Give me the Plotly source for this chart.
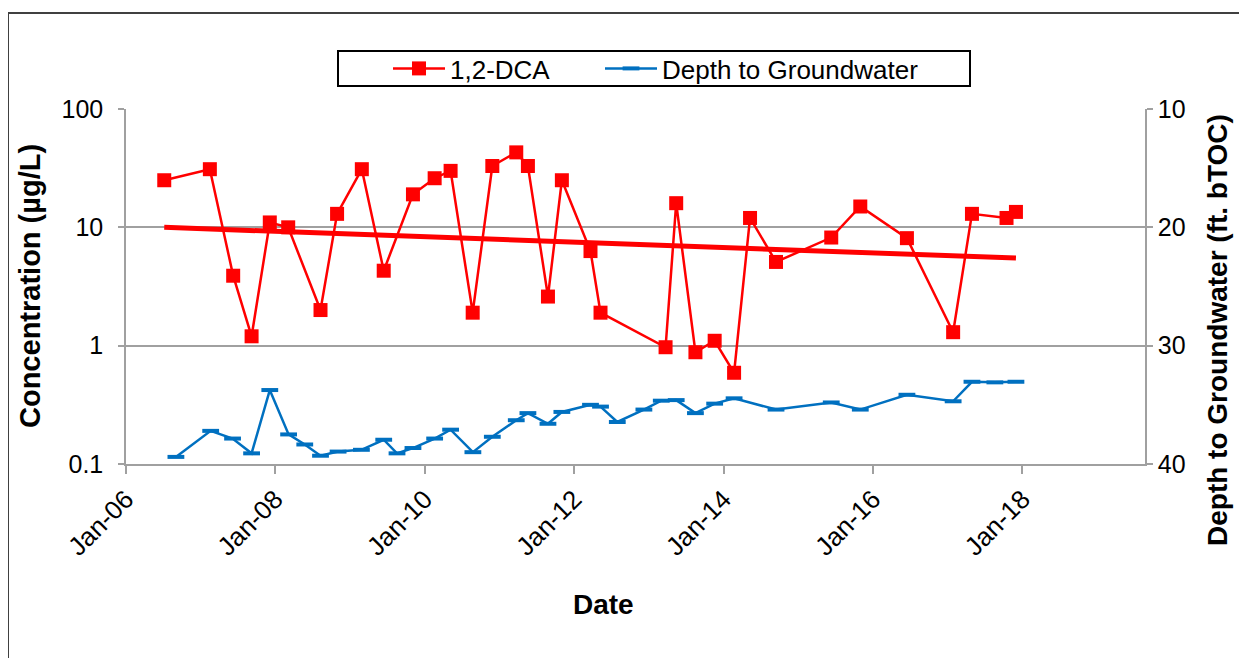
import plotly.graph_objects as go

# ---- data ----
dca_dates = ["2006-07-07", "2007-02-15", "2007-06-09", "2007-09-07", "2007-12-05", "2008-03-04",
             "2008-08-09", "2008-10-29", "2009-02-27", "2009-06-14", "2009-11-04", "2010-02-18",
             "2010-05-07", "2010-08-23", "2010-11-27", "2011-03-24", "2011-05-20", "2011-08-26",
             "2011-11-02", "2012-03-21", "2012-05-09", "2013-03-23", "2013-05-14", "2013-08-16",
             "2013-11-18", "2014-02-21", "2014-05-10", "2014-09-14", "2015-06-11", "2015-10-31",
             "2016-06-15", "2017-01-27", "2017-04-29", "2017-10-15", "2017-11-30"]
dca_values = [25, 31, 3.9, 1.2, 11, 10, 2.0, 13, 31, 4.3, 19, 26, 30, 1.9, 33, 43, 33, 2.6,
              25, 6.3, 1.9, 0.97, 16, 0.88, 1.1, 0.59, 12, 5.1, 8.2, 15, 8.1, 1.3, 13, 12, 13.5]

gw_dates = ["2006-09-02", "2007-02-19", "2007-06-06", "2007-09-07", "2007-12-05", "2008-03-06",
            "2008-05-24", "2008-08-09", "2008-11-03", "2009-02-25", "2009-06-14", "2009-08-18",
            "2009-11-04", "2010-02-18", "2010-05-07", "2010-08-24", "2010-11-27", "2011-03-24",
            "2011-05-20", "2011-08-26", "2011-11-02", "2012-03-21", "2012-05-09", "2012-07-30",
            "2012-12-07", "2013-03-02", "2013-05-14", "2013-08-16", "2013-11-18", "2014-02-21",
            "2014-09-14", "2015-06-11", "2015-10-31", "2016-06-15", "2017-01-27", "2017-04-29",
            "2017-08-19", "2017-11-30"]
gw_depths = [39.4, 37.2, 37.85, 39.1, 33.75, 37.5, 38.35, 39.3, 38.95, 38.8, 37.95, 39.1,
             38.65, 37.85, 37.1, 39.0, 37.7, 36.3, 35.7, 36.6, 35.6, 35.0, 35.15, 36.45,
             35.4, 34.65, 34.6, 35.7, 34.9, 34.45, 35.4, 34.8, 35.4, 34.15, 34.7, 33.05,
             33.1, 33.05]

trend_dates = ["2006-07-07", "2017-11-30"]
trend_values = [10.0, 5.5]

x_tick_dates = ["2006-01-01", "2008-01-01", "2010-01-01", "2012-01-01",
                "2014-01-01", "2016-01-01", "2018-01-01"]
x_tick_labels = ["Jan-06", "Jan-08", "Jan-10", "Jan-12", "Jan-14", "Jan-16", "Jan-18"]
y_tick_vals = [0.1, 1, 10, 100]
y_tick_labels = ["0.1", "1", "10", "100"]
y2_tick_vals = [10, 20, 30, 40]

RED = "#FF0000"
BLUE = "#0070C0"
GRID = "#A0A0A0"
FONT = "Arial, Liberation Sans, sans-serif"

fig = go.Figure()

fig.add_trace(go.Scatter(
    x=dca_dates, y=dca_values, name="1,2-DCA", mode="lines+markers",
    line=dict(color=RED, width=2.5),
    marker=dict(symbol="square", size=14, color=RED),
    legendwidth=145, yaxis="y"))

fig.add_trace(go.Scatter(
    x=gw_dates, y=gw_depths, name="Depth to Groundwater", mode="lines+markers",
    line=dict(color=BLUE, width=2.5),
    marker=dict(symbol="line-ew", size=12, color=BLUE, line=dict(color=BLUE, width=4)),
    legendwidth=300, yaxis="y2"))

fig.add_trace(go.Scatter(
    x=trend_dates, y=trend_values, mode="lines", showlegend=False,
    line=dict(color=RED, width=5), yaxis="y", hoverinfo="skip"))

# page body has an 8px margin: the figure origin sits at screen (8, 8)
OFF = 8
W, H = 1247 - OFF, 658 - OFF
L, R, T, B = 126, 1145, 109, 464          # plot area in screen pixels
pw, ph = R - L, B - T


def px(x):
    return (x - L) / pw


def py(y):
    return (B - y) / ph


fig.update_layout(
    width=W, height=H,
    margin=dict(l=L - OFF, r=W - (R - OFF), t=T - OFF, b=H - (B - OFF)),
    paper_bgcolor="white", plot_bgcolor="white",
    font=dict(family=FONT, size=25, color="black"),
    showlegend=True,
    legend=dict(orientation="h", x=px(388), y=py(68.5), xanchor="left", yanchor="middle",
                font=dict(size=26, family=FONT), bgcolor="rgba(0,0,0,0)", borderwidth=0,
                itemwidth=52),
    xaxis=dict(type="date", range=["2006-01-01", "2019-08-23"],
               tickvals=x_tick_dates, ticktext=x_tick_labels, tickangle=-45,
               showgrid=False, zeroline=False,
               showline=True, linecolor=GRID, linewidth=1.5,
               ticks="outside", ticklen=8, tickcolor=GRID, tickwidth=1.5,
               tickfont=dict(size=26, family=FONT)),
    yaxis=dict(type="log", range=[-1, 2], tickvals=y_tick_vals, ticktext=y_tick_labels,
               showgrid=True, gridcolor=GRID, gridwidth=1.5, zeroline=False,
               showline=True, linecolor=GRID, linewidth=1.5,
               ticks="outside", ticklen=6, tickcolor=GRID, tickwidth=1.5,
               ticklabelstandoff=10,
               tickfont=dict(size=25, family=FONT)),
    yaxis2=dict(overlaying="y", side="right", range=[40, 10], tickvals=y2_tick_vals,
                showgrid=False, zeroline=False,
                showline=True, linecolor=GRID, linewidth=1.5,
                ticks="outside", ticklen=6, tickcolor=GRID, tickwidth=1.5,
                tickfont=dict(size=25, family=FONT)),
    shapes=[
        dict(type="rect", xref="paper", yref="paper",
             x0=px(338), x1=px(970), y0=py(86), y1=py(51),
             line=dict(color="black", width=2), fillcolor="rgba(0,0,0,0)", layer="above"),
        dict(type="rect", xref="paper", yref="paper",
             x0=px(8), x1=px(1300), y0=py(720), y1=py(13),
             line=dict(color="#404040", width=2), fillcolor="rgba(0,0,0,0)", layer="below"),
    ],
    annotations=[
        dict(text="<b>Concentration (µg/L)</b>", xref="paper", yref="paper",
             x=px(30), y=py(286), textangle=-90, showarrow=False,
             xanchor="center", yanchor="middle", font=dict(size=29, family=FONT)),
        dict(text="<b>Depth to Groundwater (ft. bTOC)</b>", xref="paper", yref="paper",
             x=px(1217), y=py(330), textangle=-90, showarrow=False,
             xanchor="center", yanchor="middle", font=dict(size=28, family=FONT)),
        dict(text="<b>Date</b>", xref="paper", yref="paper",
             x=px(603), y=py(604), showarrow=False,
             xanchor="center", yanchor="middle", font=dict(size=28, family=FONT)),
    ],
)

fig.write_html("out.html")
